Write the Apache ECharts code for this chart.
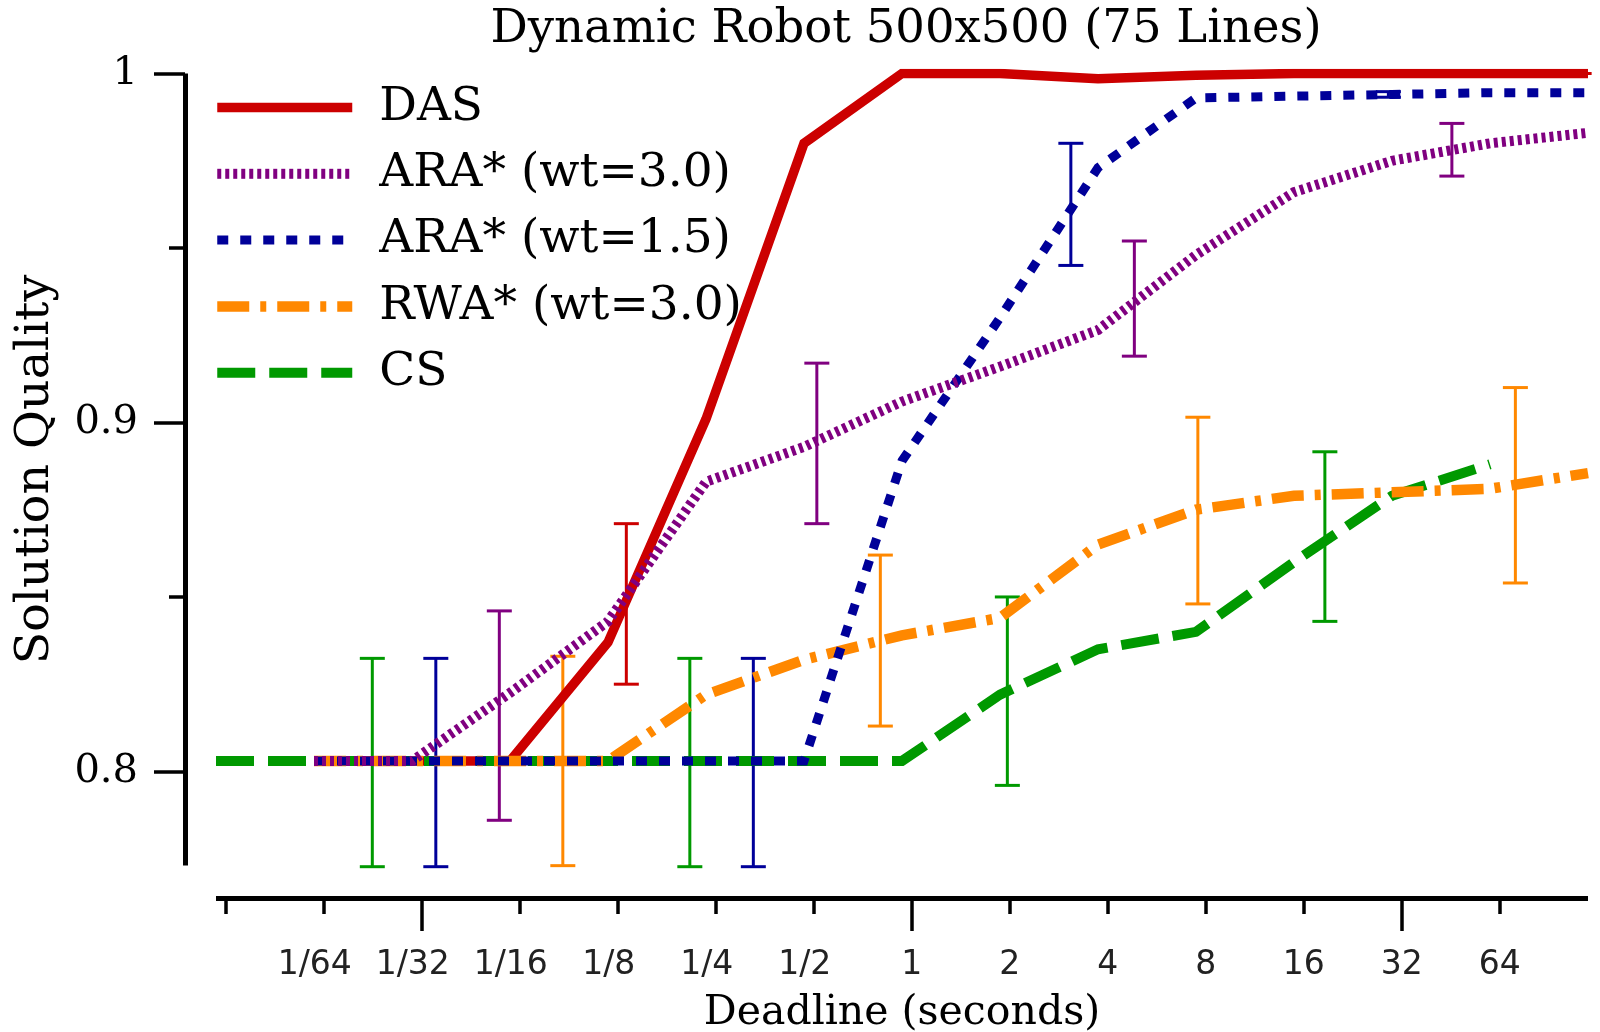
<!DOCTYPE html>
<html>
<head>
<meta charset="utf-8">
<script src="https://cdn.jsdelivr.net/npm/echarts@6/dist/echarts.min.js"></script>
<style>
html,body{margin:0;padding:0;background:#fff;}
#chart{width:1600px;height:1032px;}
</style>
</head>
<body>
<div id="chart"></div>
<script>
// x positions are log2(deadline in seconds)
const deadlineLog2 = [-7.1, -6.1, -5.1, -4.1, -3.1, -2.1, -1.1, -0.1, 0.9, 1.9, 2.9, 3.9, 4.9, 5.9, 6.9];

const seriesNames = ['DAS', 'ARA* (wt=3.0)', 'ARA* (wt=1.5)', 'RWA* (wt=3.0)', 'CS'];

const dasValues   = [null, 0.803, 0.803, 0.803, 0.837, 0.901, 0.980, 1.000, 1.000, 0.9985, 0.9995, 1.000, 1.000, 1.000, 1.000];
const ara30Values = [null, 0.803, 0.803, 0.8225, 0.843, 0.883, 0.893, 0.906, 0.916, 0.9265, 0.948, 0.966, 0.975, 0.980, 0.983];
const ara15Values = [null, 0.803, 0.803, 0.803, 0.803, 0.803, 0.803, 0.889, 0.930, 0.973, 0.993, 0.9935, 0.994, 0.9945, 0.9945];
const rwaValues   = [null, 0.803, 0.803, 0.803, 0.803, 0.822, 0.832, 0.839, 0.844, 0.865, 0.875, 0.879, 0.880, 0.881, 0.8855];
const csValues    = [0.803, 0.803, 0.803, 0.803, 0.803, 0.803, 0.803, 0.803, 0.822, 0.835, 0.840, 0.860, 0.879, 0.888, null];

// error bars: x (log2 seconds), low, high
const dasErrX   = [-2.913, 0.327, 3.567, 6.807];
const dasErrLo  = [0.825, 1.0, 0.9995, 1.0];
const dasErrHi  = [0.871, 1.0, 1.0, 1.0];
const ara30ErrX  = [-4.209, -0.969, 2.271, 5.511];
const ara30ErrLo = [0.786, 0.871, 0.919, 0.9706];
const ara30ErrHi = [0.846, 0.917, 0.952, 0.9857];
const ara15ErrX  = [-4.857, -1.617, 1.623, 4.863];
const ara15ErrLo = [0.7727, 0.7727, 0.945, 0.9932];
const ara15ErrHi = [0.8324, 0.8324, 0.980, 0.9948];
const rwaErrX  = [-3.561, -0.321, 2.919, 6.159];
const rwaErrLo = [0.773, 0.813, 0.848, 0.854];
const rwaErrHi = [0.833, 0.862, 0.9015, 0.910];
const csErrX  = [-5.505, -2.265, 0.975, 4.215];
const csErrLo = [0.7727, 0.7727, 0.796, 0.843];
const csErrHi = [0.8324, 0.8324, 0.850, 0.8916];

const xTickVals = [-7, -6, -5, -4, -3, -2, -1, 0, 1, 2, 3, 4, 5, 6];
const xLongTickVals = [-5, 0, 5];
const xLabelVals = [-6, -5, -4, -3, -2, -1, 0, 1, 2, 3, 4, 5, 6];
const xLabelTexts = ['1/64', '1/32', '1/16', '1/8', '1/4', '1/2', '1', '2', '4', '8', '16', '32', '64'];
const yLabelVals = [0.8, 0.9, 1];
const yLabelTexts = ['0.8', '0.9', '1'];
const yMinorTickVals = [0.85, 0.95];

const colors = {
  das: '#cc0000', ara30: '#800080', ara15: '#000099', rwa: '#ff8800', cs: '#009900'
};

function pairs(xs, ys) { return xs.map((x, i) => [x, ys[i]]); }
function triples(xs, lo, hi) { return xs.map((x, i) => [x, lo[i], hi[i]]); }

function errSeries(name, color, data) {
  return {
    type: 'custom', name: name, xAxisIndex: 0, yAxisIndex: 0, z: 1,
    silent: true, clip: false,
    encode: { x: 0, y: [1, 2] },
    data: data,
    renderItem: function (params, api) {
      const x = api.value(0), lo = api.value(1), hi = api.value(2);
      const a = api.coord([x, lo]), b = api.coord([x, hi]);
      const hw = 12.5;
      const st = { stroke: color, lineWidth: 3, fill: null };
      return {
        type: 'group', children: [
          { type: 'line', shape: { x1: a[0], y1: a[1], x2: b[0], y2: b[1] }, style: st },
          { type: 'line', shape: { x1: a[0] - hw, y1: a[1], x2: a[0] + hw, y2: a[1] }, style: st },
          { type: 'line', shape: { x1: b[0] - hw, y1: b[1], x2: b[0] + hw, y2: b[1] }, style: st }
        ]
      };
    }
  };
}

function lineSeries(name, color, values, width, dash, z) {
  return {
    type: 'line', name: name, xAxisIndex: 0, yAxisIndex: 0, z: z,
    data: pairs(deadlineLog2, values),
    symbol: 'none', showSymbol: false, connectNulls: false,
    lineStyle: { color: color, width: width, type: dash, cap: 'butt', join: 'miter' },
    itemStyle: { color: color },
    emphasis: { disabled: true }
  };
}

const serif = 'DejaVu Serif';
const sans = 'DejaVu Sans';

const chart = echarts.init(document.getElementById('chart'), null, { renderer: 'canvas' });

const option = {
  animation: false,
  backgroundColor: '#ffffff',
  title: {
    text: 'Dynamic Robot 500x500 (75 Lines)',
    left: 901, top: 1, textAlign: 'center',
    textStyle: { fontFamily: serif, fontSize: 46.5, fontWeight: 'normal', color: '#000' }
  },
  legend: {
    orient: 'vertical', left: 212, top: 84, padding: 0,
    itemWidth: 135, itemHeight: 20, itemGap: 19.3,
    data: seriesNames,
    selectedMode: false,
    itemStyle: { opacity: 0, borderWidth: 0 },
    lineStyle: { width: 'inherit', type: 'inherit' },
    textStyle: { fontFamily: serif, fontSize: 47, color: '#000', padding: [0, 0, 0, 22] }
  },
  grid: [
    { left: 216, right: 12, top: 73.5, bottom: 134, containLabel: false, outerBoundsMode: 'none' },
    { left: 185, width: 10, top: 73.5, bottom: 166.4, containLabel: false, outerBoundsMode: 'none' },
    { left: 216, right: 12, top: 73.5, bottom: 134, containLabel: false, outerBoundsMode: 'none' }
  ],
  xAxis: [
    {
      type: 'value', gridIndex: 0, position: 'bottom', min: -7.1, max: 6.9,
      axisLine: { show: true, onZero: false, lineStyle: { color: '#000', width: 5, cap: 'butt' } },
      axisTick: { show: true, inside: false, customValues: xTickVals, length: 16, lineStyle: { color: '#000', width: 3.5 } },
      axisLabel: {
        show: true, customValues: xLabelVals, margin: 51,
        formatter: function (v) {
          const i = xLabelVals.findIndex(t => Math.abs(t - v) < 1e-6);
          const s = i >= 0 ? xLabelTexts[i] : '';
          return s.indexOf('/') >= 0 ? '{f|' + s + '}' : '{n|' + s + '}';
        },
        rich: {
          f: { fontFamily: sans, fontSize: 33, color: '#222', padding: [0, 18, 0, 0] },
          n: { fontFamily: sans, fontSize: 33, color: '#222' }
        }
      },
      splitLine: { show: false },
      name: 'Deadline (seconds)', nameLocation: 'middle', nameGap: 95,
      nameTextStyle: { fontFamily: serif, fontSize: 41, color: '#000' }
    },
    {
      type: 'value', gridIndex: 1, min: 0, max: 1, show: false
    },
    {
      type: 'value', gridIndex: 2, position: 'bottom', min: -7.1, max: 6.9,
      axisLine: { show: false, onZero: false },
      axisTick: { show: true, inside: false, customValues: xLongTickVals, length: 33, lineStyle: { color: '#000', width: 3.5 } },
      axisLabel: { show: false },
      splitLine: { show: false }
    }
  ],
  yAxis: [
    { type: 'value', gridIndex: 0, min: 0.76373, max: 1, show: false, splitLine: { show: false } },
    {
      type: 'value', gridIndex: 1, position: 'left', min: 0.773, max: 1,
      axisLine: { show: true, onZero: false, lineStyle: { color: '#000', width: 5, cap: 'butt' } },
      axisTick: { show: true, inside: false, customValues: yLabelVals, length: 31, lineStyle: { color: '#000', width: 3.5 } },
      axisLabel: {
        show: true, customValues: yLabelVals, margin: 47,
        fontFamily: serif, fontSize: 40, color: '#000',
        formatter: function (v) {
          const i = yLabelVals.findIndex(t => Math.abs(t - v) < 1e-6);
          return i >= 0 ? yLabelTexts[i] : '';
        }
      },
      splitLine: { show: false },
      name: 'Solution Quality', nameLocation: 'middle', nameGap: 125, nameRotate: 90,
      nameTextStyle: { fontFamily: serif, fontSize: 47.5, color: '#000' }
    },
    {
      type: 'value', gridIndex: 1, position: 'left', min: 0.773, max: 1,
      axisLine: { show: false, onZero: false },
      axisTick: { show: true, inside: false, customValues: yMinorTickVals, length: 16, lineStyle: { color: '#000', width: 3.5 } },
      axisLabel: { show: false },
      splitLine: { show: false }
    },
    { type: 'value', gridIndex: 2, min: 0, max: 1, show: false }
  ],
  series: [
    errSeries('DAS err', colors.das, triples(dasErrX, dasErrLo, dasErrHi)),
    errSeries('ARA3 err', colors.ara30, triples(ara30ErrX, ara30ErrLo, ara30ErrHi)),
    errSeries('ARA15 err', colors.ara15, triples(ara15ErrX, ara15ErrLo, ara15ErrHi)),
    errSeries('RWA err', colors.rwa, triples(rwaErrX, rwaErrLo, rwaErrHi)),
    errSeries('CS err', colors.cs, triples(csErrX, csErrLo, csErrHi)),
    lineSeries(seriesNames[0], colors.das, dasValues, 9.5, 'solid', 2),
    lineSeries(seriesNames[1], colors.ara30, ara30Values, 10, [4, 4], 6),
    lineSeries(seriesNames[2], colors.ara15, ara15Values, 9, [11, 12], 5),
    lineSeries(seriesNames[3], colors.rwa, rwaValues, 10.5, [32, 11, 6, 11], 4),
    lineSeries(seriesNames[4], colors.cs, csValues, 10, [38, 14], 3)
  ]
};

chart.setOption(option);
</script>
</body>
</html>
